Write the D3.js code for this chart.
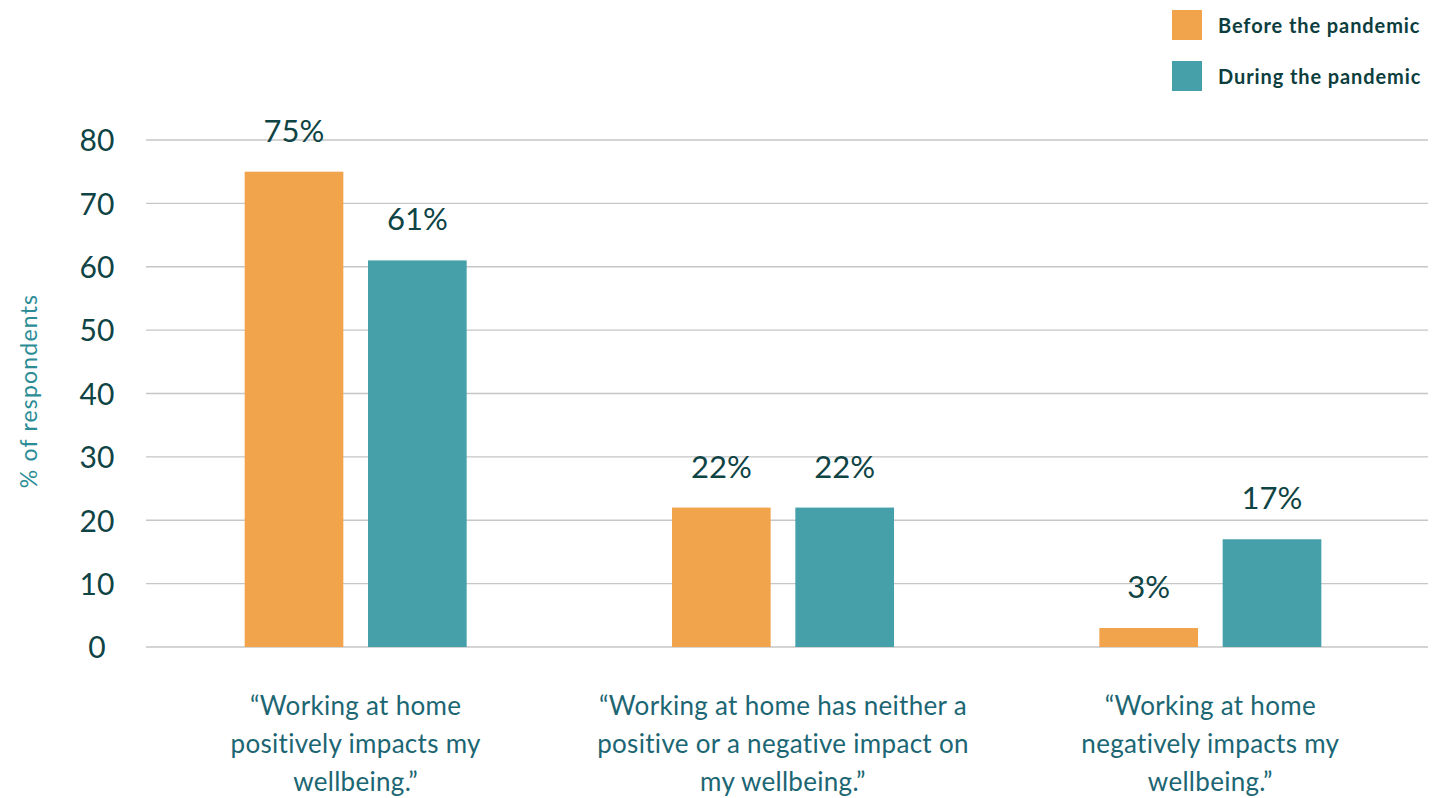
<!DOCTYPE html>
<html>
<head>
<meta charset="utf-8">
<script src="https://cdn.jsdelivr.net/npm/d3@7"></script>
<style>
  html, body { margin: 0; padding: 0; background: #ffffff; }
  svg { display: block; font-family: "Lato", "Open Sans", sans-serif; }
</style>
</head>
<body>
<svg id="chart" width="1433" height="798"></svg>
<script>
// Survey results: effect of working at home on wellbeing
const categories = [
  ["\u201CWorking at home", "positively impacts my", "wellbeing.\u201D"],
  ["\u201CWorking at home has neither a", "positive or a negative impact on", "my wellbeing.\u201D"],
  ["\u201CWorking at home", "negatively impacts my", "wellbeing.\u201D"]
];
const seriesNames = ["Before the pandemic", "During the pandemic"];
const beforeValues = [75, 22, 3];
const duringValues = [61, 22, 17];
const yTicks = [0, 10, 20, 30, 40, 50, 60, 70, 80];
const yLabel = "% of respondents";

const colors = ["#F2A44D", "#45A0AA"];
const darkText = "#0f4445";
const catText = "#1c6673";
const axisLabelColor = "#2b8c96";

const svg = d3.select("#chart");

const plotLeft = 146, plotRight = 1428;
const y = d3.scaleLinear().domain([0, 80]).range([647, 140]);

const catIdx = categories.map((d, i) => i);
const x0 = d3.scaleBand().domain(catIdx).range([142, 1424]);
const x1 = d3.scaleBand().domain([0, 1]).range([-111, 111]).paddingInner(0.2);

// horizontal gridlines
svg.append("g")
  .selectAll("line")
  .data(yTicks)
  .join("line")
  .attr("x1", plotLeft)
  .attr("x2", plotRight)
  .attr("y1", d => y(d))
  .attr("y2", d => y(d))
  .attr("stroke", "#c6c6c6")
  .attr("stroke-width", 1.3);

// y axis labels
const yAxis = svg.append("g")
  .attr("transform", `translate(${plotLeft},0)`)
  .call(d3.axisLeft(y).tickValues(yTicks).tickSize(0).tickFormat(d3.format("d")));
yAxis.select(".domain").remove();
yAxis.selectAll("text")
  .attr("x", -49)
  .attr("dy", "0.36em")
  .attr("text-anchor", "middle")
  .attr("fill", darkText)
  .style("font-size", "30px")
  .style("font-family", "Lato, sans-serif");

svg.append("text")
  .attr("transform", `translate(37,391) rotate(-90)`)
  .attr("text-anchor", "middle")
  .attr("fill", axisLabelColor)
  .style("font-size", "23px")
  .style("letter-spacing", "1.2px")
  .text(yLabel);

// bars
const rows = catIdx.map(i => [beforeValues[i], duringValues[i]]);
const groups = svg.append("g")
  .selectAll("g")
  .data(rows)
  .join("g")
  .attr("transform", (d, i) => `translate(${x0(i) + x0.bandwidth() / 2},0)`);

groups.selectAll("rect")
  .data(d => d.map((v, s) => ({ v, s })))
  .join("rect")
  .attr("x", d => x1(d.s))
  .attr("width", x1.bandwidth())
  .attr("y", d => y(d.v))
  .attr("height", d => y(0) - y(d.v))
  .attr("fill", d => colors[d.s]);

groups.selectAll("text.value")
  .data(d => d.map((v, s) => ({ v, s })))
  .join("text")
  .attr("class", "value")
  .attr("x", d => x1(d.s) + x1.bandwidth() / 2)
  .attr("y", d => y(d.v) - 30)
  .attr("text-anchor", "middle")
  .attr("fill", darkText)
  .style("font-size", "31px")
  .text(d => d.v + "%");

// category labels
const catG = svg.append("g")
  .selectAll("text")
  .data(categories)
  .join("text")
  .attr("x", (d, i) => x0(i) + x0.bandwidth() / 2)
  .attr("y", 715)
  .attr("text-anchor", "middle")
  .attr("fill", catText)
  .style("font-size", "26px")
  .style("letter-spacing", "0.3px");
catG.selectAll("tspan")
  .data(d => d)
  .join("tspan")
  .attr("x", function () { return d3.select(this.parentNode).attr("x"); })
  .attr("dy", (d, i) => i === 0 ? 0 : 38)
  .text(d => d);

// legend
const legend = svg.append("g")
  .selectAll("g")
  .data(seriesNames)
  .join("g")
  .attr("transform", (d, i) => `translate(1172,${10 + i * 51})`);
legend.append("rect")
  .attr("width", 30)
  .attr("height", 30)
  .attr("fill", (d, i) => colors[i]);
legend.append("text")
  .attr("x", 46)
  .attr("y", 23)
  .attr("fill", "#0d3e3e")
  .style("font-size", "20px")
  .style("font-weight", "bold")
  .style("letter-spacing", "0.9px")
  .text(d => d);
</script>
</body>
</html>
